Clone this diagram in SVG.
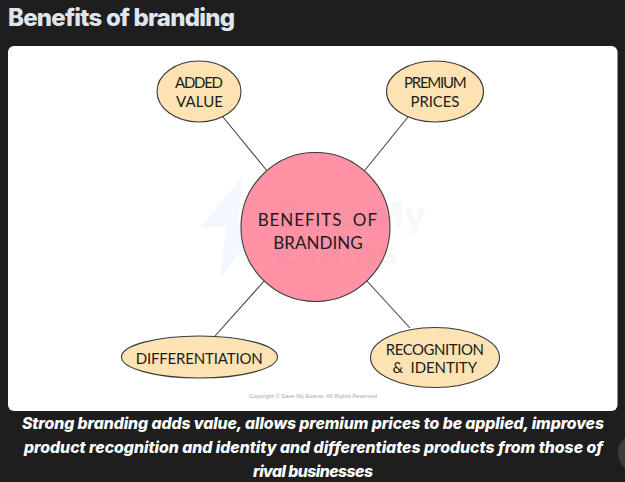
<svg xmlns="http://www.w3.org/2000/svg" width="625" height="482" viewBox="0 0 625 482">
<style>
.n{stroke:#3a3a3a;stroke-width:1.1}
.o{fill:#fde3b4}
.t{font-family:"Lato","Noto Sans",sans-serif;fill:#1c1c1c;font-size:15px;font-weight:400}
.b{font-size:17px}
.c{font-family:"Inter","Open Sans",sans-serif;font-weight:800;font-style:italic;font-size:15.8px;fill:#fff}
.w{font-family:"Inter",sans-serif;font-weight:700;font-size:36px;fill:#888;opacity:.055}
#connectors line{stroke:#444;stroke-width:1.1}
</style>
<rect width="625" height="482" fill="#1e1e1e"/>
<text x="8" y="26" font-family="Inter,'Open Sans',sans-serif" font-weight="800" font-size="24px" fill="#e0e4ec" textLength="227">Benefits of branding</text>
<rect x="8" y="46" width="609.5" height="365" rx="6" fill="#fff"/>
<path d="M243 176 L200 227 L226 227 L220 278 L262 224 L238 224 Z" fill="#f3f7fe"/>
<g id="connectors">
<line x1="223" y1="117" x2="268" y2="172"/>
<line x1="408" y1="117" x2="363" y2="172.5"/>
<line x1="265" y1="280" x2="215" y2="336"/>
<line x1="366" y1="280" x2="410" y2="328"/>
</g>
<g id="center"><circle class="n" cx="315.5" cy="227" r="74.5" fill="#ff92a5"/>
<text class="w" x="275" y="228" textLength="151">Save My</text><text class="w" x="275" y="265" textLength="122">Exams</text>
<text class="t b" x="257.7" y="226" textLength="119.3" xml:space="preserve">BENEFITS  OF</text>
<text class="t b" x="273.3" y="249.3" textLength="89.4">BRANDING</text></g>
<g id="added-value"><ellipse class="n o" cx="199" cy="91.5" rx="42" ry="30.5"/>
<text class="t" x="175" y="88" textLength="48">ADDED</text><text class="t" x="176" y="107" textLength="47">VALUE</text></g>
<g id="premium-prices"><ellipse class="n o" cx="435" cy="91.5" rx="48.5" ry="30.5"/>
<text class="t" x="404" y="88" textLength="62.7">PREMIUM</text><text class="t" x="410.5" y="107" textLength="49">PRICES</text></g>
<g id="differentiation"><ellipse class="n o" cx="199.5" cy="357" rx="78" ry="21"/>
<text class="t" x="135.7" y="364" textLength="127">DIFFERENTIATION</text></g>
<g id="recognition-identity"><ellipse class="n o" cx="435" cy="357.5" rx="64.5" ry="30"/>
<text class="t" x="385.7" y="355" textLength="98.3">RECOGNITION</text><text class="t" x="392.5" y="373" textLength="84.5" xml:space="preserve">&amp;  IDENTITY</text></g>
<text x="249" y="397.5" font-family="'Liberation Sans',sans-serif" font-size="5.8px" fill="#a8a8a8" textLength="128">Copyright © Save My Exams. All Rights Reserved</text>
<text class="c" x="22" y="429" textLength="582">Strong branding adds value, allows premium prices to be applied, improves</text>
<text class="c" x="24" y="452.7" textLength="579">product recognition and identity and differentiates products from those of</text>
<text class="c" x="253" y="476.7" textLength="120">rival businesses</text>
<circle cx="638" cy="453" r="20" fill="#3c3c3c"/>
</svg>
